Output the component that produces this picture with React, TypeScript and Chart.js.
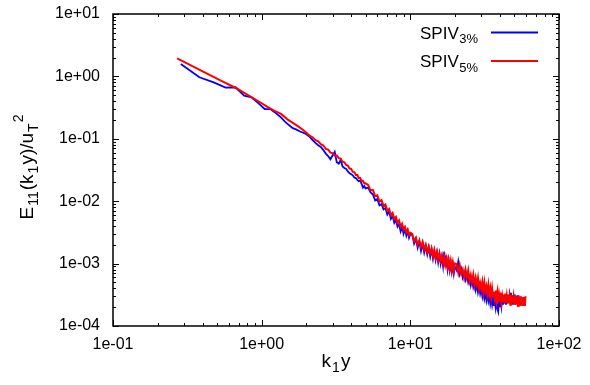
import React, { useEffect, useRef } from 'react';
import { Chart, registerables } from 'chart.js';

Chart.register(...registerables);

const FONT = "'Liberation Sans', Arial, Helvetica, sans-serif";

const xTickValues = [0.1, 1, 10, 100];
const xTickLabels = ['1e-01', '1e+00', '1e+01', '1e+02'];
const yTickValues = [1e-4, 1e-3, 1e-2, 1e-1, 1, 10];
const yTickLabels = ['1e-04', '1e-03', '1e-02', '1e-01', '1e+00', '1e+01'];

const seriesSubs = ['3%', '5%'];
const seriesColors = ['#0000ff', '#ff0000'];

// SPIV 3% (blue)
const kBlue = [
  0.286, 0.381, 0.476, 0.571, 0.667, 0.762, 0.857, 0.953, 1.048, 1.143, 1.238, 1.334, 1.429, 1.524, 1.62, 1.715, 1.81, 1.906,
  2.0, 2.1, 2.2, 2.3, 2.4, 2.5, 2.6, 2.7, 2.8, 2.9, 3.0, 3.1, 3.2, 3.3, 3.4, 3.5, 3.6, 3.7, 3.8, 3.9, 4.0, 4.1, 4.2, 4.3, 4.4, 4.5, 4.6, 4.7, 4.8, 4.9, 5.0,
  5.2, 5.4, 5.6, 5.8, 6.0, 6.2, 6.4, 6.6, 6.8, 7.0, 7.2, 7.4, 7.6, 7.8, 8.0, 8.2, 8.4, 8.6, 8.8, 9.0, 9.2, 9.4, 9.6, 9.8, 10.0,
  10.3, 10.6, 10.9, 11.2, 11.5, 11.8, 12.1, 12.4, 12.7, 13.0, 13.3, 13.6, 13.9, 14.2, 14.5, 14.8, 15.1, 15.4, 15.7, 16.0, 16.3, 16.6, 16.9, 17.2, 17.5, 17.8, 18.1, 18.4, 18.7, 19.0, 19.3, 19.6, 19.9,
  20.5, 21.0, 21.5, 22.0, 22.5, 23.0, 23.5, 24.0, 24.5, 25.0, 25.5, 26.0, 26.5, 27.0, 27.5, 28.0, 28.5, 29.0, 29.5, 30.0,
  30.5, 31.0, 31.5, 32.0, 32.5, 33.0, 33.5, 34.0, 34.5, 35.0, 35.5, 36.0, 36.5, 37.0, 37.5, 38.0, 38.5, 39.0, 39.5, 40.0,
  40.5, 41.0, 41.5, 42.0, 42.5, 43.0, 43.5, 44.0, 44.5, 45.0, 45.5, 46.0, 46.5, 47.0, 47.5, 48.0, 48.5, 49.0, 49.5, 50.0,
  50.5, 51.0, 51.5, 52.0, 52.5, 53.0, 53.5, 54.0, 54.5, 55.0, 55.5,
];
const eBlue = [
  1.58, 0.97, 0.80, 0.66, 0.67, 0.49, 0.46, 0.37, 0.30, 0.30, 0.26, 0.226, 0.19, 0.166, 0.148, 0.14, 0.131, 0.125,
  0.118, 0.108, 0.095, 0.086, 0.079, 0.074, 0.066, 0.058, 0.053, 0.047, 0.054, 0.062, 0.042, 0.040, 0.046, 0.036, 0.034, 0.033, 0.030, 0.028, 0.027, 0.026, 0.024, 0.0235, 0.022, 0.021, 0.0215, 0.019, 0.0165, 0.0175, 0.016,
  0.0165, 0.0138, 0.0128, 0.0103, 0.0108, 0.0086, 0.0090, 0.0074, 0.0078, 0.0061, 0.0068, 0.0052, 0.0058, 0.0045, 0.0050, 0.0039, 0.0043, 0.0033, 0.0039, 0.0030, 0.0036, 0.0028, 0.0033, 0.0026, 0.0030,
  0.0029, 0.0021, 0.0025, 0.0018, 0.0023, 0.0016, 0.0021, 0.0015, 0.0019, 0.0014, 0.0018, 0.0013, 0.0017, 0.0012, 0.0016, 0.00115, 0.0015, 0.00105, 0.0014, 0.001, 0.0013, 0.00092, 0.00155, 0.00088, 0.00135, 0.00082, 0.0011, 0.00078, 0.001, 0.00074, 0.00095, 0.0007, 0.0009,
  0.00078, 0.00107, 0.00068, 0.00082, 0.0006, 0.00072, 0.00055, 0.00066, 0.0005, 0.0006, 0.00045, 0.00056, 0.00042, 0.0005, 0.00038, 0.00047, 0.00035, 0.00044, 0.00033, 0.0004,
  0.0003, 0.00038, 0.00028, 0.00035, 0.00026, 0.00032, 0.00025, 0.0003, 0.00023, 0.00029, 0.00022, 0.00028, 0.00021, 0.00027, 0.0002, 0.00026, 0.00019, 0.00017, 0.00025, 0.0002,
  0.00027, 0.00021, 0.00029, 0.00022, 0.0003, 0.00023, 0.00031, 0.00022, 0.0003, 0.00023, 0.00031, 0.00024, 0.0003, 0.00023, 0.00034, 0.00024, 0.00031, 0.00022, 0.0003, 0.00023,
  0.00032, 0.00022, 0.0003, 0.00023, 0.00031, 0.00022, 0.0003, 0.00023, 0.00029, 0.00022, 0.00028,
];

// SPIV 5% (red)
const kRed = [
  0.27, 0.41, 0.54, 0.68, 0.81, 0.95, 1.08, 1.22, 1.35, 1.49, 1.62, 1.76, 1.89,
  2.0, 2.1, 2.2, 2.3, 2.4, 2.5, 2.6, 2.7, 2.8, 2.9, 3.0, 3.1, 3.2, 3.3, 3.4, 3.5, 3.6, 3.7, 3.8, 3.9, 4.0, 4.1, 4.2, 4.3, 4.4, 4.5, 4.6, 4.7, 4.8, 4.9, 5.0,
  5.2, 5.4, 5.6, 5.8, 6.0, 6.2, 6.4, 6.6, 6.8, 7.0, 7.2, 7.4, 7.6, 7.8, 8.0, 8.2, 8.4, 8.6, 8.8, 9.0, 9.2, 9.4, 9.6, 9.8, 10.0,
  10.3, 10.6, 10.9, 11.2, 11.5, 11.8, 12.1, 12.4, 12.7, 13.0, 13.3, 13.6, 13.9, 14.2, 14.5, 14.8, 15.1, 15.4, 15.7, 16.0, 16.3, 16.6, 16.9, 17.2, 17.5, 17.8, 18.1, 18.4, 18.7, 19.0, 19.3, 19.6, 19.9,
  20.5, 21.0, 21.5, 22.0, 22.5, 23.0, 23.5, 24.0, 24.5, 25.0, 25.5, 26.0, 26.5, 27.0, 27.5, 28.0, 28.5, 29.0, 29.5, 30.0,
  30.5, 31.0, 31.5, 32.0, 32.5, 33.0, 33.5, 34.0, 34.5, 35.0, 35.5, 36.0, 36.5, 37.0, 37.5, 38.0, 38.5, 39.0, 39.5, 40.0,
  40.5, 41.0, 41.5, 42.0, 42.5, 43.0, 43.5, 44.0, 44.5, 45.0, 45.5, 46.0, 46.5, 47.0, 47.5, 48.0, 48.5, 49.0, 49.5, 50.0,
  50.5, 51.0, 51.5, 52.0, 52.5, 53.0, 53.5, 54.0, 54.5, 55.0, 55.5, 56.0, 56.5, 57.0, 57.5, 58.0, 58.5, 59.0, 59.5,
];
const eRed = [
  1.95, 1.17, 0.84, 0.64, 0.50, 0.40, 0.33, 0.28, 0.25, 0.205, 0.18, 0.158, 0.14,
  0.125, 0.112, 0.106, 0.095, 0.091, 0.082, 0.078, 0.069, 0.067, 0.060, 0.059, 0.054, 0.054, 0.049, 0.048, 0.043, 0.042, 0.038, 0.0372, 0.0333, 0.0330, 0.0295, 0.0293, 0.0263, 0.0263, 0.0236, 0.0236, 0.0212, 0.0213, 0.0192, 0.0193,
  0.0182, 0.0149, 0.0152, 0.0120, 0.0124, 0.0099, 0.0104, 0.0084, 0.0089, 0.0070, 0.0075, 0.0060, 0.0065, 0.0052, 0.0056, 0.0045, 0.0049, 0.0039, 0.00435, 0.00354, 0.00386, 0.00315, 0.00351, 0.00286, 0.00314,
  0.0030, 0.0023, 0.0026, 0.0020, 0.00235, 0.00185, 0.00223, 0.00168, 0.0020, 0.00154, 0.00188, 0.00146, 0.00173, 0.00131, 0.00165, 0.00125, 0.00153, 0.00116, 0.00146, 0.00112, 0.00132, 0.00101, 0.00129, 0.00096, 0.00119, 0.00089, 0.00114, 0.00086, 0.0011, 0.00082, 0.00103, 0.00077, 0.00101,
  0.00098, 0.00071, 0.00095, 0.00069, 0.0008, 0.00059, 0.0008, 0.00061, 0.00078, 0.00053, 0.00066, 0.00051, 0.00066, 0.00045, 0.00059, 0.00046, 0.00059, 0.0004, 0.00049, 0.0004,
  0.00051, 0.00035, 0.00049, 0.00036, 0.00043, 0.00033, 0.00045, 0.00032, 0.0004, 0.00029, 0.0004, 0.0003, 0.00035, 0.00027, 0.00037, 0.00026, 0.00034, 0.00024, 0.00032, 0.00025,
  0.00034, 0.00024, 0.0003, 0.00024, 0.00032, 0.00023, 0.00033, 0.00024, 0.0003, 0.00023, 0.00032, 0.00023, 0.00029, 0.00022, 0.00032, 0.00023, 0.0003, 0.00023, 0.00029, 0.00023,
  0.00031, 0.00022, 0.0003, 0.00023, 0.00028, 0.00021, 0.00031, 0.00022, 0.00029, 0.00022, 0.0003, 0.00023, 0.00028, 0.00021, 0.00029, 0.00022, 0.00028, 0.00021, 0.0003,
];

type Part = { t: string; size: number; dy: number };

function partsWidth(ctx: CanvasRenderingContext2D, parts: Part[], gap: number) {
  let w = 0;
  for (const p of parts) {
    ctx.font = `${p.size}px ${FONT}`;
    w += ctx.measureText(p.t).width;
  }
  return w + gap * (parts.length - 1);
}

function drawParts(ctx: CanvasRenderingContext2D, parts: Part[], x: number, y: number, gap: number) {
  let cx = x;
  for (const p of parts) {
    ctx.font = `${p.size}px ${FONT}`;
    ctx.fillText(p.t, cx, y + p.dy);
    cx += ctx.measureText(p.t).width + gap;
  }
}

function labelFor(values: number[], labels: string[], v: number) {
  const i = values.findIndex((t) => Math.abs(Math.log10(t) - Math.log10(v)) < 1e-6);
  return i >= 0 ? labels[i] : '';
}

const overlayPlugin = {
  id: 'gnuFrame',
  afterDraw(chart: any) {
    const { ctx, chartArea: a } = chart;
    const xs = chart.scales.x;
    const ys = chart.scales.y;
    ctx.save();
    ctx.strokeStyle = '#000';
    ctx.lineWidth = 1;
    for (let d = -1; d <= 2; d++) {
      for (let m = 1; m <= 9; m++) {
        const v = m * Math.pow(10, d);
        if (v < 0.1 - 1e-9 || v > 100 + 1e-9) continue;
        const px = Math.round(xs.getPixelForValue(v)) + 0.5;
        const len = m === 1 ? 6 : 3;
        ctx.beginPath();
        ctx.moveTo(px, a.bottom);
        ctx.lineTo(px, a.bottom - len);
        ctx.moveTo(px, a.top);
        ctx.lineTo(px, a.top + len);
        ctx.stroke();
      }
    }
    for (let d = -4; d <= 1; d++) {
      for (let m = 1; m <= 9; m++) {
        const v = m * Math.pow(10, d);
        if (v < 1e-4 - 1e-12 || v > 10 + 1e-9) continue;
        const py = Math.round(ys.getPixelForValue(v)) + 0.5;
        const len = m === 1 ? 6 : 3;
        ctx.beginPath();
        ctx.moveTo(a.left, py);
        ctx.lineTo(a.left + len, py);
        ctx.moveTo(a.right, py);
        ctx.lineTo(a.right - len, py);
        ctx.stroke();
      }
    }
    ctx.lineWidth = 1.5;
    ctx.strokeRect(a.left, a.top, a.right - a.left, a.bottom - a.top);

    ctx.fillStyle = '#000';
    ctx.textAlign = 'left';
    ctx.textBaseline = 'alphabetic';

    // legend
    for (let i = 0; i < seriesSubs.length; i++) {
      const base = 38.5 + i * 28.5;
      drawParts(ctx, [
        { t: 'SPIV', size: 17, dy: 0 },
        { t: seriesSubs[i], size: 13, dy: 4.5 },
      ], 420, base, 0.5);
      ctx.strokeStyle = seriesColors[i];
      ctx.lineWidth = 2;
      ctx.beginPath();
      ctx.moveTo(491, base - 6);
      ctx.lineTo(538, base - 6);
      ctx.stroke();
    }

    // x title
    const xParts: Part[] = [
      { t: 'k', size: 19, dy: 0 },
      { t: '1', size: 14, dy: 5 },
      { t: 'y', size: 19, dy: 0 },
    ];
    const xw = partsWidth(ctx, xParts, 1);
    drawParts(ctx, xParts, (a.left + a.right) / 2 - xw / 2, 367, 1);

    // y title
    const yParts: Part[] = [
      { t: 'E', size: 19, dy: 0 },
      { t: '11', size: 14, dy: 5 },
      { t: '(k', size: 19, dy: 0 },
      { t: '1', size: 14, dy: 5 },
      { t: 'y)/u', size: 19, dy: 0 },
      { t: 'T', size: 14, dy: 5 },
      { t: '2', size: 14, dy: -10 },
    ];
    const yw = partsWidth(ctx, yParts, 1);
    ctx.save();
    ctx.translate(33, (a.top + a.bottom) / 2 - 3);
    ctx.rotate(-Math.PI / 2);
    drawParts(ctx, yParts, -yw / 2, 0, 1);
    ctx.restore();

    ctx.restore();
  },
};

export default function App() {
  const canvasRef = useRef<HTMLCanvasElement | null>(null);

  useEffect(() => {
    const canvas = canvasRef.current;
    if (!canvas) return;
    const chart = new Chart(canvas, {
      type: 'line',
      data: {
        datasets: [
          {
            label: 'SPIV3%',
            data: kBlue.map((k, i) => ({ x: k, y: eBlue[i] })),
            borderColor: seriesColors[0],
            backgroundColor: seriesColors[0],
            borderWidth: 1.8,
            pointRadius: 0,
            tension: 0,
            fill: false,
            order: 2,
          },
          {
            label: 'SPIV5%',
            data: kRed.map((k, i) => ({ x: k, y: eRed[i] })),
            borderColor: seriesColors[1],
            backgroundColor: seriesColors[1],
            borderWidth: 2,
            pointRadius: 0,
            tension: 0,
            fill: false,
            order: 1,
          },
        ],
      },
      options: {
        animation: false,
        responsive: false,
        maintainAspectRatio: false,
        events: [],
        layout: { padding: { left: 0, top: 14, right: 31, bottom: 0 } },
        plugins: {
          legend: { display: false },
          tooltip: { enabled: false },
          title: { display: false },
        },
        scales: {
          x: {
            type: 'logarithmic',
            min: 0.1,
            max: 100,
            grid: { display: false, drawTicks: false },
            border: { display: false },
            afterBuildTicks: (s: any) => {
              s.ticks = xTickValues.map((v) => ({ value: v, major: true }));
            },
            afterFit: (s: any) => {
              s.height = 59;
              s.paddingLeft = 0;
              s.paddingRight = 0;
            },
            ticks: {
              autoSkip: false,
              maxRotation: 0,
              padding: 9,
              color: '#000',
              font: { family: FONT, size: 16 },
              callback: (v: any) => labelFor(xTickValues, xTickLabels, Number(v)),
            },
          },
          y: {
            type: 'logarithmic',
            min: 1e-4,
            max: 10,
            grid: { display: false, drawTicks: false },
            border: { display: false },
            afterBuildTicks: (s: any) => {
              s.ticks = yTickValues.map((v) => ({ value: v, major: true }));
            },
            afterFit: (s: any) => {
              s.width = 113;
              s.paddingTop = 0;
              s.paddingBottom = 0;
            },
            ticks: {
              autoSkip: false,
              padding: 13,
              color: '#000',
              font: { family: FONT, size: 16 },
              callback: (v: any) => labelFor(yTickValues, yTickLabels, Number(v)),
            },
          },
        },
      },
      plugins: [overlayPlugin],
    } as any);
    return () => chart.destroy();
  }, []);

  return (
    <div style={{ position: 'fixed', left: 0, top: 0, width: 590, height: 385, background: '#fff' }}>
      <canvas ref={canvasRef} width={590} height={385} style={{ display: 'block' }} />
    </div>
  );
}
